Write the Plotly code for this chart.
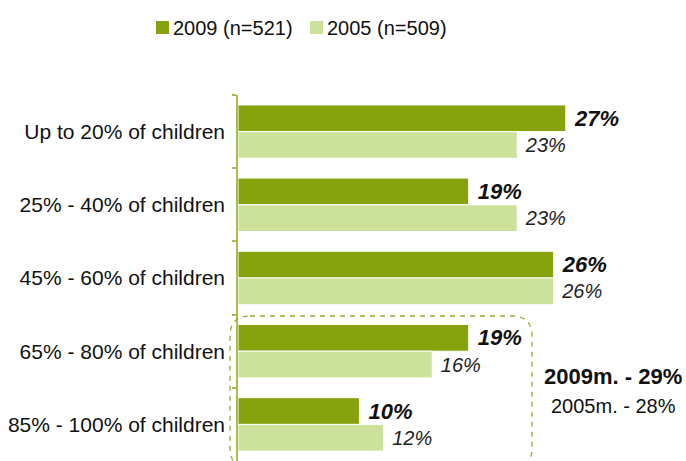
import plotly.graph_objects as go

# Share of children per group, survey waves 2009 and 2005
categories = [
    "Up to 20% of children",
    "25% - 40% of children",
    "45% - 60% of children",
    "65% - 80% of children",
    "85% - 100% of children",
]
values_2009 = [27, 19, 26, 19, 10]
values_2005 = [23, 23, 26, 16, 12]
name_2009 = "2009 (n=521)"
name_2005 = "2005 (n=509)"
note_2009 = "2009m. - 29%"
note_2005 = "2005m. - 28%"

DARK = "#86a20d"
LIGHT = "#cce29b"
AXIS = "#a6bf4c"
FONT = "Liberation Sans, Arial, sans-serif"

W, H = 686, 461
M_L, M_R, M_T, M_B = 238, 0, 95, 0
X_MAX = 36.9

fig = go.Figure()
fig.add_trace(go.Bar(
    y=categories, x=values_2009, orientation="h", name=name_2009,
    marker=dict(color=DARK, line=dict(color="white", width=1)),
    texttemplate="\u00a0%{x}%", textposition="outside",
    textfont=dict(family=FONT, size=22, color="#111111", weight="bold", style="italic"),
    cliponaxis=False, constraintext="none",
))
fig.add_trace(go.Bar(
    y=categories, x=values_2005, orientation="h", name=name_2005,
    marker=dict(color=LIGHT, line=dict(color="white", width=1)),
    texttemplate="\u00a0%{x}%", textposition="outside",
    textfont=dict(family=FONT, size=20, color="#222222", style="italic"),
    cliponaxis=False, constraintext="none",
))

# Pixel -> paper coordinate helpers
pw, ph = W - M_L - M_R, H - M_T - M_B
def px_x(p):
    return (p - M_L) / pw
def px_y(p):
    return (H - M_B - p) / ph

# Dashed rounded frame around the two lower groups
x0, x1, y0, y1, r = 230, 532, 316, 468, 20
path = (
    f"M {px_x(x0 + r)},{px_y(y0)} L {px_x(x1 - r)},{px_y(y0)} "
    f"Q {px_x(x1)},{px_y(y0)} {px_x(x1)},{px_y(y0 + r)} "
    f"L {px_x(x1)},{px_y(y1 - r)} Q {px_x(x1)},{px_y(y1)} {px_x(x1 - r)},{px_y(y1)} "
    f"L {px_x(x0 + r)},{px_y(y1)} Q {px_x(x0)},{px_y(y1)} {px_x(x0)},{px_y(y1 - r)} "
    f"L {px_x(x0)},{px_y(y0 + r)} Q {px_x(x0)},{px_y(y0)} {px_x(x0 + r)},{px_y(y0)} Z"
)
fig.add_shape(type="path", path=path, xref="paper", yref="paper",
              line=dict(color="#93ad33", width=1.3, dash="5px,5px"))

# Legend row: colour key squares followed by series names
legend_items = [(name_2009, DARK, 156), (name_2005, LIGHT, 310)]
for label, color, left in legend_items:
    fig.add_shape(type="rect", xref="paper", yref="paper",
                  x0=px_x(left), x1=px_x(left + 13), y0=px_y(34), y1=px_y(21),
                  fillcolor=color, line=dict(width=0))
    fig.add_annotation(x=px_x(left + 15), y=px_y(27.5), xref="paper", yref="paper",
                       xanchor="left", yanchor="middle", text=label, showarrow=False,
                       font=dict(family=FONT, size=20, color="#111111"))

fig.add_annotation(x=px_x(613), y=px_y(376), xref="paper", yref="paper",
                   xanchor="center", yanchor="middle",
                   text=f"<b>{note_2009}</b>", showarrow=False,
                   font=dict(family=FONT, size=22, color="#111111"))
fig.add_annotation(x=px_x(613), y=px_y(406), xref="paper", yref="paper",
                   xanchor="center", yanchor="middle",
                   text=note_2005, showarrow=False,
                   font=dict(family=FONT, size=20, color="#111111"))

fig.update_layout(
    width=W, height=H,
    margin=dict(l=M_L, r=M_R, t=M_T, b=M_B),
    paper_bgcolor="white", plot_bgcolor="white",
    barmode="group", bargap=0.27, bargroupgap=0,
    font=dict(family=FONT, size=20, color="#111111"),
    showlegend=False,
    xaxis=dict(range=[0, X_MAX], visible=False, showgrid=False, zeroline=False),
    yaxis=dict(range=[4.5, -0.5], showline=True, linecolor=AXIS, linewidth=1.5,
               ticks="outside", tickson="boundaries", ticklen=4, tickcolor=AXIS,
               tickwidth=1.5, showgrid=False, ticklabelstandoff=7,
               tickfont=dict(family=FONT, size=21, color="#111111")),
)

fig.write_html("out.html")
